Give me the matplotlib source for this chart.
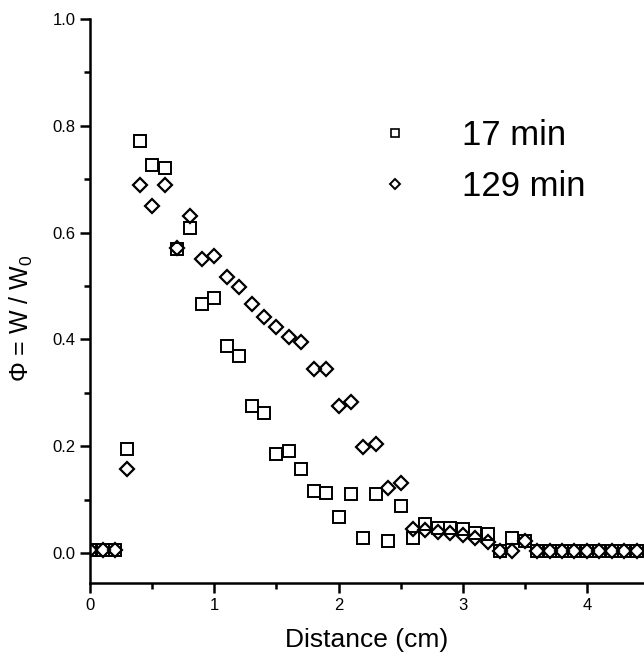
import numpy as np
import matplotlib
matplotlib.use("Agg")
import matplotlib.pyplot as plt
from matplotlib.lines import Line2D

plt.rcParams['font.family'] = ['Liberation Sans', 'DejaVu Sans']
plt.rcParams['mathtext.fontset'] = 'custom'
plt.rcParams['mathtext.rm'] = 'Liberation Sans'
plt.rcParams['mathtext.default'] = 'regular'

# distance (cm), 0.1 cm steps
dist = np.round(np.arange(0, 4.45, 0.1), 1)

phi_17 = [0.005, 0.005, 0.005, 0.195, 0.772, 0.726, 0.721, 0.569, 0.608, 0.466,
          0.477, 0.387, 0.370, 0.275, 0.262, 0.186, 0.191, 0.158, 0.116, 0.113,
          0.068, 0.111, 0.029, 0.110, 0.022, 0.088, 0.029, 0.055, 0.047, 0.047,
          0.046, 0.038, 0.036, 0.004, 0.029, 0.022, 0.004, 0.004, 0.004, 0.004,
          0.004, 0.004, 0.004, 0.004, 0.004]
phi_129 = [0.005, 0.005, 0.005, 0.157, 0.689, 0.650, 0.689, 0.572, 0.631, 0.550,
           0.556, 0.517, 0.498, 0.466, 0.442, 0.423, 0.404, 0.395, 0.344, 0.344,
           0.275, 0.283, 0.199, 0.204, 0.121, 0.131, 0.045, 0.044, 0.040, 0.037,
           0.034, 0.029, 0.020, 0.003, 0.003, 0.022, 0.004, 0.004, 0.004, 0.004,
           0.004, 0.004, 0.004, 0.004, 0.004]
labels = ['17 min', '129 min']

fig = plt.figure(figsize=(6.44, 6.58), dpi=100)
ax = fig.add_axes([0.14, 0.114, 0.86, 0.857])

ax.plot(dist, phi_17, linestyle='none', marker='s', markersize=8,
        markerfacecolor='none', markeredgecolor='black', markeredgewidth=1.4)
ax.plot(dist, phi_129, linestyle='none', marker='D', markersize=7,
        markerfacecolor='none', markeredgecolor='black', markeredgewidth=1.6)

ax.set_xlim(0, 4.46)
ax.set_ylim(-0.056, 1.0)
ax.set_xticks([0, 1, 2, 3, 4])
ax.set_xticks(np.arange(0.5, 4.5, 1.0), minor=True)
ax.set_yticks([0.0, 0.2, 0.4, 0.6, 0.8, 1.0])
ax.set_yticks([0.1, 0.3, 0.5, 0.7, 0.9], minor=True)
ax.yaxis.set_major_formatter(matplotlib.ticker.FormatStrFormatter('%.1f'))

for s in ['top', 'right']:
    ax.spines[s].set_visible(False)
for s in ['left', 'bottom']:
    ax.spines[s].set_linewidth(1.8)
ax.tick_params(which='major', direction='out', length=7, width=1.8, labelsize=12)
ax.tick_params(which='minor', direction='out', length=4, width=1.8)

ax.set_xlabel('Distance (cm)', fontsize=19, labelpad=11)
ax.set_ylabel('\u03a6 = W / W$_0$', fontsize=18)
ax.yaxis.set_label_coords(-0.1, 0.47)

handles = [Line2D([], [], linestyle='none', marker='s', markersize=5.5,
                  markerfacecolor='none', markeredgecolor='black', markeredgewidth=1.2),
           Line2D([], [], linestyle='none', marker='D', markersize=5,
                  markerfacecolor='none', markeredgecolor='black', markeredgewidth=1.4)]
ax.legend(handles, labels, loc='upper left', bbox_to_anchor=(0.494, 0.847),
          frameon=False, fontsize=25, handletextpad=1.43, labelspacing=0.51,
          handlelength=1.0, borderpad=0.4, borderaxespad=0)

fig.savefig('out.png', dpi=100)
